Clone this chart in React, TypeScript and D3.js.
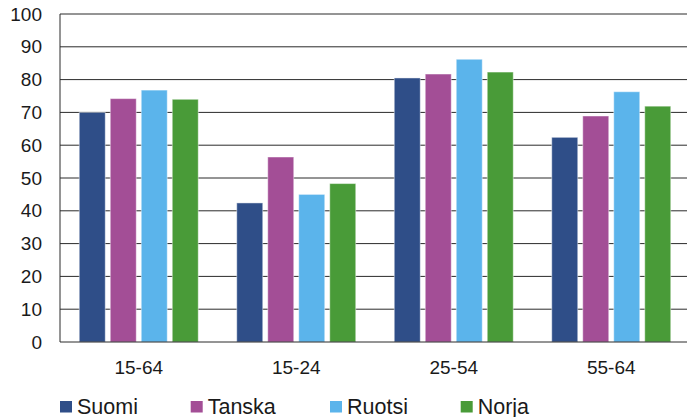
import React from "react";
import * as d3 from "d3";

const categories = ["15-64", "15-24", "25-54", "55-64"];
const seriesNames = ["Suomi", "Tanska", "Ruotsi", "Norja"];
const suomi = [70.0, 42.4, 80.5, 62.4];
const tanska = [74.2, 56.4, 81.7, 68.9];
const ruotsi = [76.8, 45.0, 86.2, 76.3];
const norja = [74.0, 48.3, 82.3, 71.9];
const seriesValues = [suomi, tanska, ruotsi, norja];
const colors = ["#2F4E88", "#A34E96", "#5BB4EB", "#499B38"];
const yTicks = [0, 10, 20, 30, 40, 50, 60, 70, 80, 90, 100];
const legendX = [60, 190.7, 330, 460.7];

const W = 687;
const H = 417;
const left = 60;
const right = 690;
const top = 14;
const bottom = 342;
const font = "'Liberation Sans', Arial, sans-serif";

export default function App() {
  const x = d3.scaleBand<string>().domain(categories).range([left, right]).paddingInner(0).paddingOuter(0);
  const y = d3.scaleLinear().domain([0, 100]).range([bottom, top]);
  const inner = d3
    .scaleBand<string>()
    .domain(seriesNames)
    .range([19.25, x.bandwidth() - 19.25])
    .paddingInner(5 / 31)
    .paddingOuter(0);

  return (
    <svg width={W} height={H} style={{ position: "absolute", left: 0, top: 0 }} fontFamily={font}>
      <rect x={0} y={0} width={W} height={H} fill="#fff" />
      {yTicks.map((t) => (
        <g key={t}>
          {t > 0 && <line x1={left} x2={right} y1={y(t)} y2={y(t)} stroke="#2a2a2a" strokeWidth={1} />}
          <text x={42} y={y(t)} dy="0.35em" textAnchor="end" fontSize={19} fill="#1a1a1a">
            {t}
          </text>
        </g>
      ))}
      {categories.map((c, ci) => (
        <g key={c} transform={`translate(${x(c)},0)`}>
          {seriesNames.map((s, si) => {
            const v = seriesValues[si][ci];
            return (
              <rect
                key={s}
                x={inner(s)}
                y={y(v)}
                width={inner.bandwidth()}
                height={y(0) - y(v)}
                fill={colors[si]}
                stroke="rgba(255,255,255,0.45)"
                strokeWidth={1}
              />
            );
          })}
          <text x={x.bandwidth() / 2} y={373.5} textAnchor="middle" fontSize={19} fill="#1a1a1a">
            {c}
          </text>
        </g>
      ))}
      <line x1={left} x2={left} y1={top} y2={bottom} stroke="#2a2a2a" strokeWidth={1} />
      <line x1={left} x2={right} y1={bottom} y2={bottom} stroke="#2a2a2a" strokeWidth={1} />
      {seriesNames.map((s, si) => (
        <g key={s}>
          <rect x={legendX[si]} y={401} width={12} height={11.5} fill={colors[si]} />
          <text x={legendX[si] + 17} y={413.5} fontSize={21.5} fill="#1a1a1a">
            {s}
          </text>
        </g>
      ))}
    </svg>
  );
}
